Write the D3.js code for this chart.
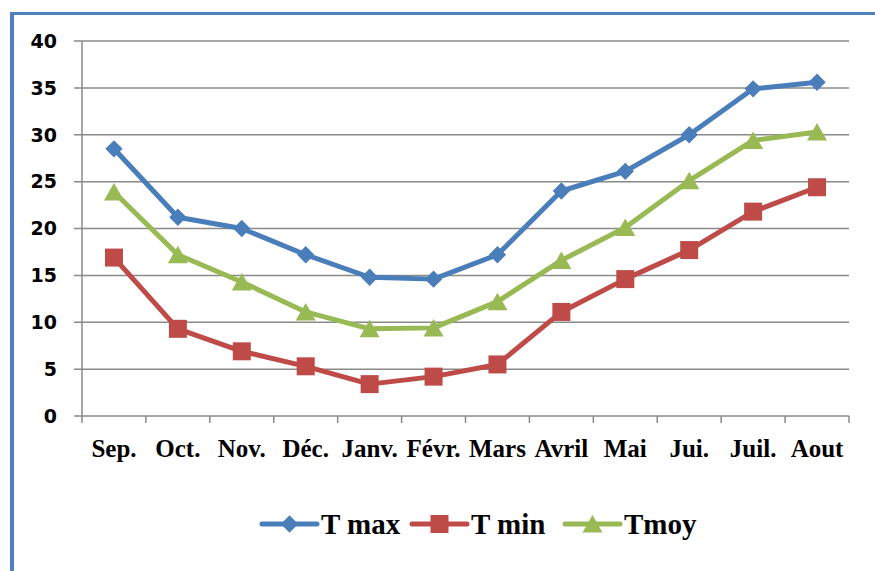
<!DOCTYPE html>
<html>
<head>
<meta charset="utf-8">
<script src="https://cdn.jsdelivr.net/npm/d3@7"></script>
<style>
    body { margin: 0; background: #fff; }
    svg { display: block; }
</style>
</head>
<body>
<svg id="chart" width="875" height="571"></svg>
<script>
// Chart data
const months = ["Sep.", "Oct.", "Nov.", "Déc.", "Janv.", "Févr.", "Mars", "Avril", "Mai", "Jui.", "Juil.", "Aout"];
const tMax = [28.5, 21.2, 20.0, 17.2, 14.8, 14.6, 17.2, 24.0, 26.1, 30.0, 34.9, 35.6];
const tMin = [16.9, 9.3, 6.9, 5.3, 3.4, 4.2, 5.5, 11.1, 14.6, 17.7, 21.8, 24.4];
const tMoy = [23.9, 17.2, 14.3, 11.1, 9.3, 9.4, 12.2, 16.6, 20.1, 25.1, 29.4, 30.3];
const yTicks = [0, 5, 10, 15, 20, 25, 30, 35, 40];
const seriesNames = ["T max", "T min", "Tmoy"];

const series = [
    { name: seriesNames[0], values: tMax, color: "#4A7EBB", marker: "diamond" },
    { name: seriesNames[1], values: tMin, color: "#BE4B48", marker: "square" },
    { name: seriesNames[2], values: tMoy, color: "#98B954", marker: "triangle" }
];

const svg = d3.select("#chart");

// Outer frame (left and top blue border)
svg.append("line")
    .attr("x1", 12).attr("x2", 12).attr("y1", 12).attr("y2", 571)
    .style("stroke", "#4F81BD").style("stroke-width", 4);
svg.append("line")
    .attr("x1", 10).attr("x2", 875).attr("y1", 13.5).attr("y2", 13.5)
    .style("stroke", "#4F81BD").style("stroke-width", 3);

const plot = { left: 82, right: 849, top: 41, bottom: 416 };

const x = d3.scaleBand().domain(months).range([plot.left, plot.right]);
const y = d3.scaleLinear().domain([0, 40]).range([plot.bottom, plot.top]);

// Horizontal gridlines
svg.append("g")
    .selectAll("line")
    .data(yTicks)
    .enter().append("line")
    .attr("x1", plot.left - 8)
    .attr("x2", plot.right)
    .attr("y1", d => y(d))
    .attr("y2", d => y(d))
    .style("stroke", "#8a8a8a")
    .style("stroke-width", 1.5);

// Y axis line
svg.append("line")
    .attr("x1", plot.left).attr("x2", plot.left)
    .attr("y1", plot.top).attr("y2", plot.bottom)
    .style("stroke", "#8a8a8a").style("stroke-width", 1.5);

// X axis tick marks at category boundaries
const boundaries = months.map(m => x(m)).concat([plot.right]);
svg.append("g")
    .selectAll("line")
    .data(boundaries)
    .enter().append("line")
    .attr("x1", d => d).attr("x2", d => d)
    .attr("y1", plot.bottom).attr("y2", plot.bottom + 7)
    .style("stroke", "#8a8a8a").style("stroke-width", 1.5);

// Y tick labels
svg.append("g")
    .selectAll("text")
    .data(yTicks)
    .enter().append("text")
    .attr("x", 57)
    .attr("y", d => y(d))
    .attr("dy", "0.36em")
    .attr("text-anchor", "end")
    .style("font-family", "'DejaVu Sans', sans-serif")
    .style("font-weight", "bold")
    .style("font-size", "19px")
    .text(d => d);

// X tick labels
svg.append("g")
    .selectAll("text")
    .data(months)
    .enter().append("text")
    .attr("x", d => x(d) + x.bandwidth() / 2)
    .attr("y", 457)
    .attr("text-anchor", "middle")
    .style("font-family", "'Liberation Serif', 'Times New Roman', serif")
    .style("font-weight", "bold")
    .style("font-size", "25px")
    .text(d => d);

// Marker shapes
function markerPath(type) {
    if (type === "diamond") return d3.symbol().type(d3.symbolDiamond2).size(190)();
    if (type === "square") return "M-9,-9H9V9H-9Z";
    return "M0,-9L10,8.5L-10,8.5Z";
}

// Lines and markers
const line = d3.line()
    .x((d, i) => x(months[i]) + x.bandwidth() / 2)
    .y(d => y(d));

series.forEach(s => {
    svg.append("path")
        .datum(s.values)
        .attr("d", line)
        .style("fill", "none")
        .style("stroke", s.color)
        .style("stroke-width", 5)
        .style("stroke-linejoin", "round");

    svg.append("g")
        .selectAll("path")
        .data(s.values)
        .enter().append("path")
        .attr("transform", (d, i) => `translate(${x(months[i]) + x.bandwidth() / 2},${y(d)})`)
        .attr("d", markerPath(s.marker))
        .style("fill", s.color);
});

// Legend
const legendX = [262, 412, 565];
const legend = svg.append("g")
    .selectAll("g")
    .data(series)
    .enter().append("g")
    .attr("transform", (d, i) => `translate(${legendX[i]},524)`);

legend.append("line")
    .attr("x1", 0).attr("x2", 55)
    .attr("y1", 0).attr("y2", 0)
    .style("stroke", d => d.color)
    .style("stroke-width", 5)
    .style("stroke-linecap", "round");

legend.append("path")
    .attr("transform", "translate(27.5,0)")
    .attr("d", d => markerPath(d.marker))
    .style("fill", d => d.color);

legend.append("text")
    .attr("x", 59)
    .attr("y", 10)
    .style("font-family", "'Liberation Serif', 'Times New Roman', serif")
    .style("font-weight", "bold")
    .style("font-size", "29px")
    .text(d => d.name);
</script>
</body>
</html>
